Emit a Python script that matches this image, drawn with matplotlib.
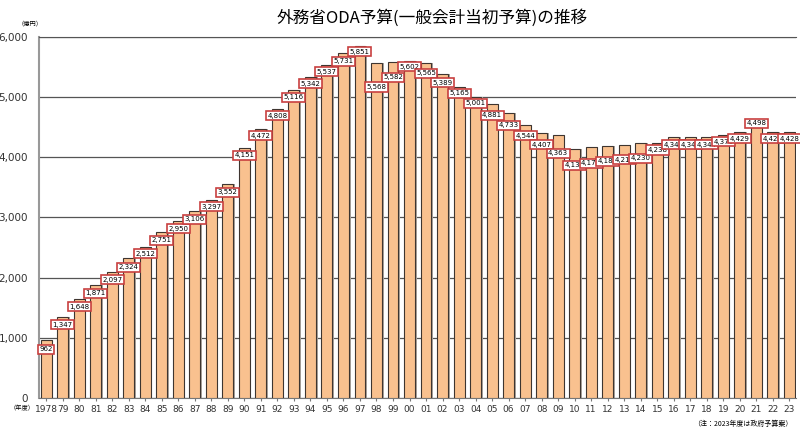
import matplotlib
matplotlib.use('Agg')
import matplotlib.pyplot as plt
import numpy as np

plt.rcParams['font.family'] = ['Noto Sans CJK JP', 'DejaVu Sans']

# fiscal years and budget (100 million yen)
years = ['1978', '79', '80', '81', '82', '83', '84', '85', '86', '87', '88', '89',
         '90', '91', '92', '93', '94', '95', '96', '97', '98', '99', '00', '01',
         '02', '03', '04', '05', '06', '07', '08', '09', '10', '11', '12', '13',
         '14', '15', '16', '17', '18', '19', '20', '21', '22', '23']
budget = [962, 1347, 1648, 1871, 2097, 2324, 2512, 2751, 2950, 3106, 3297, 3552,
          4151, 4472, 4808, 5116, 5342, 5537, 5731, 5851, 5568, 5582, 5602, 5565,
          5389, 5165, 5001, 4881, 4733, 4544, 4407, 4363, 4134, 4170, 4180, 4212,
          4230, 4238, 4342, 4343, 4344, 4376, 4429, 4498, 4428, 4428]

# vertical shift of each value box relative to its bar top (pixels)
label_dy = [-9, -8, -8, -8, -8, -9, -7, -8, -8, -8, -7, -8,
            -7, -7, -7, -7, -7, -7, -8, -6, -24, -15, -6, -10,
            -9, -6, -6, -11, -12, -11, -12, -18, -16, -16, -15, -15,
            -15, -7, -8, -8, -8, -7, -7, 4, -7, -7]

fig = plt.figure(figsize=(8, 4.3), dpi=100)
ax = fig.add_axes([0.049, 0.0744, 0.946, 0.8396])

x = np.arange(len(years))
w = 0.66
# grey shadow on the right side of each bar
ax.bar(x + 0.1, budget, width=w, color='#a9a29c', zorder=2)
ax.bar(x, budget, width=w, color='#f9c18f', edgecolor='#3e3530',
       linewidth=0.8, zorder=3)

for xi, v, dy in zip(x, budget, label_dy):
    ax.annotate(f'{v:,}', xy=(xi, v), xytext=(0, dy * 0.72),
                textcoords='offset points', ha='center', va='center',
                fontsize=5, family='DejaVu Sans', zorder=5,
                bbox=dict(boxstyle='square,pad=0.22', fc='white',
                          ec='#c8403f', lw=1.2))

ax.set_xlim(-0.42, len(years) - 0.6)
ax.set_ylim(0, 6000)
ax.set_yticks(range(0, 6001, 1000))
ax.set_yticklabels([f'{t:,}' for t in range(0, 6001, 1000)], fontsize=7.5,
                   color='#333333', family='DejaVu Sans')
ax.set_xticks(x)
ax.set_xticklabels(years, fontsize=6.5, color='#333333', family='DejaVu Sans')
ax.tick_params(axis='y', length=0, pad=8)
ax.tick_params(axis='x', length=2, pad=3, color='#777777')

ax.grid(axis='y', color='#555555', linewidth=0.9, zorder=1)
ax.set_axisbelow(True)
ax.spines['right'].set_visible(False)
ax.spines['top'].set_color('#555555')
ax.spines['left'].set_color('#999999')
ax.spines['left'].set_linewidth(1.5)
ax.spines['bottom'].set_color('#777777')

fig.text(0.54, 0.958, '外務省ODA予算(一般会計当初予算)の推移', ha='center',
         va='center', fontsize=12)
fig.text(0.038, 0.945, '（億円）', ha='center', va='center', fontsize=4.5)
fig.text(0.028, 0.05, '（年度）', ha='center', va='center', fontsize=4.5)
fig.text(0.99, 0.015, '（注：2023年度は政府予算案）', ha='right', va='center',
         fontsize=5)

fig.savefig('out.png', dpi=100)
